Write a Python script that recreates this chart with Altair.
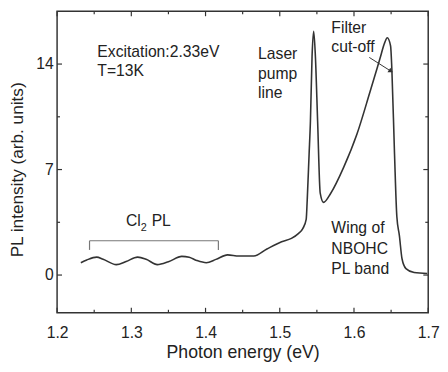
import altair as alt
import pandas as pd

# Spectrum
energy = [1.232, 1.240, 1.2533, 1.262, 1.2798, 1.293, 1.3085, 1.320, 1.335, 1.350,
          1.368, 1.378, 1.388, 1.401, 1.414, 1.4297, 1.445, 1.465, 1.4827, 1.5025,
          1.5157, 1.525, 1.531, 1.5356, 1.537, 1.5395, 1.5413, 1.5435, 1.5457, 1.548,
          1.551, 1.5545, 1.5589, 1.5687, 1.5862, 1.6039, 1.6216, 1.6348, 1.6414, 1.6448,
          1.6493, 1.651, 1.6546, 1.6577, 1.6612, 1.6647, 1.670, 1.681, 1.6987]
intensity = [0.82, 1.00, 1.19, 1.05, 0.69, 0.90, 1.19, 1.05, 0.69, 0.88,
             1.24, 1.18, 0.97, 0.82, 1.04, 1.34, 1.26, 1.26, 1.73, 2.21,
             2.43, 2.75, 3.08, 3.69, 4.99, 8.0, 10.2, 14.5, 16.18, 14.5,
             10.2, 5.43, 4.82, 5.43, 7.16, 9.34, 12.16, 14.33, 15.42, 15.74,
             15.2, 13.68, 8.03, 3.90, 2.60, 1.08, 0.43, 0.17, 0.10]

x_major = [1.2, 1.3, 1.4, 1.5, 1.6, 1.7]
x_minor = [1.25, 1.35, 1.45, 1.55, 1.65]
y_major = [0, 7, 14]
y_minor = [3.5, 10.5]

ann_text = ["Excitation:2.33eV", "T=13K", "Laser", "pump", "line", "Filter", "cut-off",
            "Wing of", "NBOHC", "PL band", "Cl", "PL"]
ann_x = [1.2542, 1.2542, 1.4708, 1.4708, 1.4708, 1.5695, 1.5695,
         1.5695, 1.5695, 1.5695, 1.2928, 1.3274]
ann_y = [14.50, 13.20, 14.33, 12.99, 11.72, 16.07, 14.81,
         2.78, 1.41, 0.10, 3.23, 3.23]
sub_text = ["2"]
sub_x = [1.3128]
sub_y = [2.91]

bracket_x = [1.2437, 1.4173]
bracket_top = 2.275
bracket_bottom = 1.668

arrow_x = [1.6206, 1.6497]
arrow_y = [14.44, 13.53]

W, H = 378, 307
FONT = "Liberation Sans"
INK = "#333333"

xs = alt.Scale(domain=[1.2, 1.7], nice=False, zero=False)
ys = alt.Scale(domain=[-2.5, 17.5], nice=False, zero=False)

XAX = alt.Axis(
    values=x_major, format=".1f", ticks=False, tickSize=0, domain=False, grid=False,
    labelFontSize=16, labelFont=FONT, labelColor="#222", labelPadding=12,
    labelFlush=False, labelOverlap=False,
    title="Photon energy (eV)", titleFontSize=18, titleFont=FONT,
    titleFontWeight="normal", titleColor="#222", titleY=46,
    titleBaseline="alphabetic")
YAX = alt.Axis(
    values=y_major, ticks=False, tickSize=0, domain=False, grid=False,
    labelFontSize=16, labelFont=FONT, labelColor="#222", labelPadding=4,
    title="PL intensity (arb. units)", titleFontSize=17.5, titleFont=FONT,
    titleFontWeight="normal", titleColor="#222", titleX=-40, titleY=161,
    titleBaseline="middle")


def X(f):
    return alt.X(f, scale=xs, axis=XAX)


def Y(f):
    return alt.Y(f, scale=ys, axis=YAX)


spec_df = pd.DataFrame({"E": energy, "I": intensity})

line = alt.Chart(spec_df).mark_line(color=INK, strokeWidth=1.6, interpolate="monotone").encode(
    x=X("E:Q"), y=Y("I:Q"))


def xticks(vals, length):
    d = pd.DataFrame({"t": vals})
    b = alt.Chart(d).mark_rule(color=INK, strokeWidth=1.2).encode(
        x=X("t:Q"), y=alt.value(H), y2=alt.value(H - length))
    t = alt.Chart(d).mark_rule(color=INK, strokeWidth=1.2).encode(
        x=X("t:Q"), y=alt.value(0), y2=alt.value(length))
    return [b, t]


def yticks(vals, length):
    d = pd.DataFrame({"t": vals})
    l = alt.Chart(d).mark_rule(color=INK, strokeWidth=1.2).encode(
        y=Y("t:Q"), x=alt.value(0), x2=alt.value(length))
    r = alt.Chart(d).mark_rule(color=INK, strokeWidth=1.2).encode(
        y=Y("t:Q"), x=alt.value(W), x2=alt.value(W - length))
    return [l, r]


ann_df = pd.DataFrame({"text": ann_text, "x": ann_x, "y": ann_y})
texts = alt.Chart(ann_df).mark_text(align="left", baseline="alphabetic", font=FONT,
                                    fontSize=16, color="#222").encode(
    x=X("x:Q"), y=Y("y:Q"), text="text:N")

sub_df = pd.DataFrame({"text": sub_text, "x": sub_x, "y": sub_y})
subs = alt.Chart(sub_df).mark_text(align="left", baseline="alphabetic", font=FONT,
                                   fontSize=11, color="#222").encode(
    x=X("x:Q"), y=Y("y:Q"), text="text:N")

br_h = alt.Chart(pd.DataFrame({"x1": [bracket_x[0]], "x2": [bracket_x[1]], "y": [bracket_top]})).mark_rule(
    color="#777", strokeWidth=1.2).encode(x=X("x1:Q"), x2="x2:Q", y=Y("y:Q"))
br_v = alt.Chart(pd.DataFrame({"x": bracket_x, "y1": [bracket_top] * 2, "y2": [bracket_bottom] * 2})).mark_rule(
    color="#777", strokeWidth=1.2).encode(x=X("x:Q"), y=Y("y1:Q"), y2="y2:Q")

arrow_df = pd.DataFrame({"x1": [arrow_x[0]], "y1": [arrow_y[0]], "x2": [arrow_x[1]], "y2": [arrow_y[1]]})
arrow_line = alt.Chart(arrow_df).mark_rule(color=INK, strokeWidth=1).encode(
    x=X("x1:Q"), y=Y("y1:Q"), x2="x2:Q", y2="y2:Q")
arrow_head = alt.Chart(arrow_df).mark_point(shape="triangle-right", filled=True, size=30,
                                            color=INK, angle=32, opacity=1).encode(
    x=X("x2:Q"), y=Y("y2:Q"))

layers = [line] + xticks(x_major, 5) + xticks(x_minor, 3) + yticks(y_major, 5) + yticks(y_minor, 3) + \
    [br_h, br_v, arrow_line, arrow_head, texts, subs]

chart = alt.layer(*layers).properties(
    width=W, height=H,
    autosize=alt.AutoSizeParams(type="none"),
    padding={"left": 50, "top": 0, "right": 12, "bottom": 57},
).configure_view(stroke=INK, strokeWidth=1.5)

chart.save("out.html", embed_options={"renderer": "svg", "actions": False})
